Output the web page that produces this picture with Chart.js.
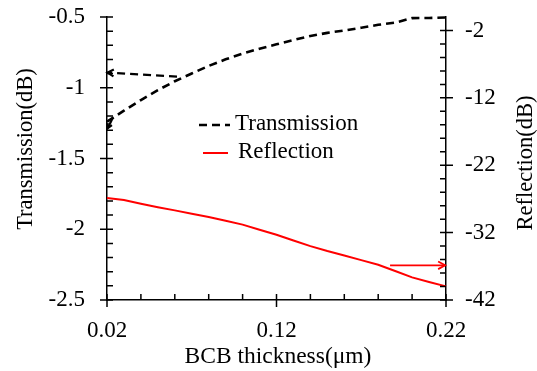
<!DOCTYPE html>
<html><head><meta charset="utf-8">
<script src="https://cdn.jsdelivr.net/npm/chart.js@4/dist/chart.umd.min.js"></script>
<style>html,body{margin:0;padding:0;background:#fff;}#wrap{width:537px;height:371px;position:relative;}</style>
</head><body><div id="wrap"><canvas id="c" width="537" height="371"></canvas></div>
<script>
// ---- data ----
const thickness = [0.02,0.03,0.04,0.05,0.06,0.07,0.08,0.09,0.10,0.11,0.12,0.13,0.14,0.15,0.16,0.17,0.18,0.19,0.20,0.21,0.22];
const transmission = [-1.24,-1.162,-1.087,-1.017,-0.954,-0.899,-0.846,-0.799,-0.759,-0.724,-0.693,-0.662,-0.634,-0.612,-0.595,-0.576,-0.555,-0.540,-0.508,-0.507,-0.503];
const reflection = [-26.87,-27.15,-27.71,-28.23,-28.70,-29.19,-29.69,-30.25,-30.81,-31.57,-32.31,-33.18,-34.00,-34.74,-35.40,-36.08,-36.77,-37.70,-38.64,-39.32,-39.98];
const seriesNames = ['Transmission','Reflection'];

const xMajorTicks = [0.02,0.12,0.22];
const xTickLabels = ['0.02','0.12','0.22'];
const xMinorTicks = [0.04,0.06,0.08,0.10,0.14,0.16,0.18,0.20];
const yLeftMajorTicks = [-2.5,-2,-1.5,-1,-0.5];
const yLeftTickLabels = ['-2.5','-2','-1.5','-1','-0.5'];
const yLeftMinorTicks = [-2.4,-2.3,-2.2,-2.1,-1.9,-1.8,-1.7,-1.6,-1.4,-1.3,-1.2,-1.1,-0.9,-0.8,-0.7,-0.6];
const yRightMajorTicks = [-42,-32,-22,-12,-2];
const yRightTickLabels = ['-42','-32','-22','-12','-2'];
const yRightMinorTicks = [-40,-38,-36,-34,-30,-28,-26,-24,-20,-18,-16,-14,-10,-8,-6,-4];

const xTitle = 'BCB thickness(μm)';
const yLeftTitle = 'Transmission(dB)';
const yRightTitle = 'Reflection(dB)';

// annotation arrows (data coordinates)
const transArrowFrom = [0.0613,-0.921];
const transArrowTo = [0.0203,-0.893];
const transStartFrom = [0.0235,-1.21];
const transStartTo = [0.0205,-1.285];
const reflArrowFrom = [0.187,-36.85];
const reflArrowTo = [0.2195,-36.85];

const FONT = '"Liberation Serif", "Times New Roman", serif';

function arrow(ctx, x1, y1, x2, y2, color, dash, width, head) {
  ctx.save();
  ctx.strokeStyle = color; ctx.lineWidth = width;
  ctx.setLineDash(dash);
  ctx.beginPath(); ctx.moveTo(x1,y1); ctx.lineTo(x2,y2); ctx.stroke();
  ctx.setLineDash([]);
  const a = Math.atan2(y2-y1, x2-x1);
  ctx.beginPath();
  ctx.moveTo(x2 - head*Math.cos(a-0.5), y2 - head*Math.sin(a-0.5));
  ctx.lineTo(x2,y2);
  ctx.lineTo(x2 - head*Math.cos(a+0.5), y2 - head*Math.sin(a+0.5));
  ctx.stroke();
  ctx.restore();
}

const decor = {
  id: 'decor',
  afterDraw(chart) {
    const ctx = chart.ctx;
    const sx = chart.scales.x, sy = chart.scales.y, sy2 = chart.scales.y2;
    ctx.save();
    ctx.strokeStyle = '#000'; ctx.lineWidth = 1.5;
    const lx = sy.right;
    ctx.beginPath();
    yLeftMajorTicks.forEach(v => { const p = sy.getPixelForValue(v); ctx.moveTo(lx-7,p); ctx.lineTo(lx+6,p); });
    yLeftMinorTicks.forEach(v => { const p = sy.getPixelForValue(v); ctx.moveTo(lx,p); ctx.lineTo(lx+6,p); });
    const rx = sy2.left;
    yRightMajorTicks.forEach(v => { const p = sy2.getPixelForValue(v); ctx.moveTo(rx-6,p); ctx.lineTo(rx+7,p); });
    yRightMinorTicks.forEach(v => { const p = sy2.getPixelForValue(v); ctx.moveTo(rx-6,p); ctx.lineTo(rx,p); });
    const by = sx.top;
    xMajorTicks.forEach(v => { const p = sx.getPixelForValue(v); ctx.moveTo(p,by+7); ctx.lineTo(p,by-6); });
    xMinorTicks.forEach(v => { const p = sx.getPixelForValue(v); ctx.moveTo(p,by); ctx.lineTo(p,by-6); });
    ctx.stroke();
    ctx.restore();

    arrow(ctx, sx.getPixelForValue(transArrowFrom[0]), sy.getPixelForValue(transArrowFrom[1]),
      sx.getPixelForValue(transArrowTo[0]), sy.getPixelForValue(transArrowTo[1]), '#000', [8,5], 2.2, 7);
    arrow(ctx, sx.getPixelForValue(transStartFrom[0]), sy.getPixelForValue(transStartFrom[1]),
      sx.getPixelForValue(transStartTo[0]), sy.getPixelForValue(transStartTo[1]), '#000', [], 2.2, 5);
    arrow(ctx, sx.getPixelForValue(reflArrowFrom[0]), sy2.getPixelForValue(reflArrowFrom[1]),
      sx.getPixelForValue(reflArrowTo[0]), sy2.getPixelForValue(reflArrowTo[1]), '#ff0000', [], 1.8, 8);

    // legend
    ctx.save();
    ctx.font = '23px ' + FONT;
    ctx.fillStyle = '#000';
    ctx.textBaseline = 'middle';
    ctx.textAlign = 'left';
    ctx.strokeStyle = '#000'; ctx.lineWidth = 2.5; ctx.setLineDash([8,5]);
    ctx.beginPath(); ctx.moveTo(199,125); ctx.lineTo(230,125); ctx.stroke();
    ctx.setLineDash([]);
    ctx.fillText(seriesNames[0], 235, 124);
    ctx.strokeStyle = '#ff0000'; ctx.lineWidth = 2;
    ctx.beginPath(); ctx.moveTo(203,153); ctx.lineTo(228,153); ctx.stroke();
    ctx.fillText(seriesNames[1], 238, 152);
    ctx.restore();

    // axis titles
    ctx.save();
    ctx.fillStyle = '#000';
    ctx.textAlign = 'center'; ctx.textBaseline = 'middle';
    ctx.font = '23.5px ' + FONT;
    ctx.fillText(xTitle, 278, 357);
    ctx.font = '22.5px ' + FONT;
    ctx.save(); ctx.translate(26,149); ctx.rotate(-Math.PI/2); ctx.fillText(yLeftTitle,0,0); ctx.restore();
    ctx.save(); ctx.translate(526,163); ctx.rotate(-Math.PI/2); ctx.fillText(yRightTitle,0,0); ctx.restore();
    ctx.restore();
  }
};

const tickFont = { family: FONT, size: 23 };
const noPadY = s => { s.paddingTop = 0; s.paddingBottom = 0; };

new Chart(document.getElementById('c'), {
  type: 'line',
  data: {
    datasets: [
      { label: seriesNames[0], data: thickness.map((x,i)=>({x, y: transmission[i]})), yAxisID: 'y',
        borderColor: '#000', borderWidth: 2.6, borderDash: [8,5], pointRadius: 0, tension: 0, fill: false, clip: 5 },
      { label: seriesNames[1], data: thickness.map((x,i)=>({x, y: reflection[i]})), yAxisID: 'y2',
        borderColor: '#ff0000', borderWidth: 2, pointRadius: 0, tension: 0, fill: false, clip: 5 }
    ]
  },
  options: {
    responsive: false, animation: false, devicePixelRatio: 1,
    layout: { padding: { top: 17, left: 0, right: 0, bottom: 0 } },
    plugins: { legend: { display: false }, tooltip: { enabled: false } },
    scales: {
      x: {
        type: 'linear', position: 'bottom', min: 0.02, max: 0.22,
        afterBuildTicks: s => { s.ticks = xMajorTicks.map(v => ({ value: v })); },
        afterFit: s => { s.height = 71; s.paddingLeft = 0; s.paddingRight = 0; },
        ticks: { font: tickFont, color: '#000', padding: 17, maxRotation: 0, autoSkip: false,
          callback: (v, i) => xTickLabels[i] },
        grid: { display: false, drawTicks: false },
        border: { display: true, color: '#000', width: 1.5 }
      },
      y: {
        type: 'linear', position: 'left', min: -2.5, max: -0.5,
        afterBuildTicks: s => { s.ticks = yLeftMajorTicks.map(v => ({ value: v })); },
        afterFit: s => { s.width = 107; noPadY(s); },
        ticks: { font: tickFont, color: '#000', padding: 22, autoSkip: false,
          callback: (v, i) => yLeftTickLabels[i] },
        grid: { display: false, drawTicks: false },
        border: { display: true, color: '#000', width: 1.5 }
      },
      y2: {
        type: 'linear', position: 'right', min: -42, max: 0,
        afterBuildTicks: s => { s.ticks = yRightMajorTicks.map(v => ({ value: v })); },
        afterFit: s => { s.width = 91; noPadY(s); },
        ticks: { font: tickFont, color: '#000', padding: 19, autoSkip: false,
          callback: (v, i) => yRightTickLabels[i] },
        grid: { display: false, drawTicks: false },
        border: { display: true, color: '#000', width: 1.5 }
      }
    }
  },
  plugins: [decor]
});
</script>
</body></html>
